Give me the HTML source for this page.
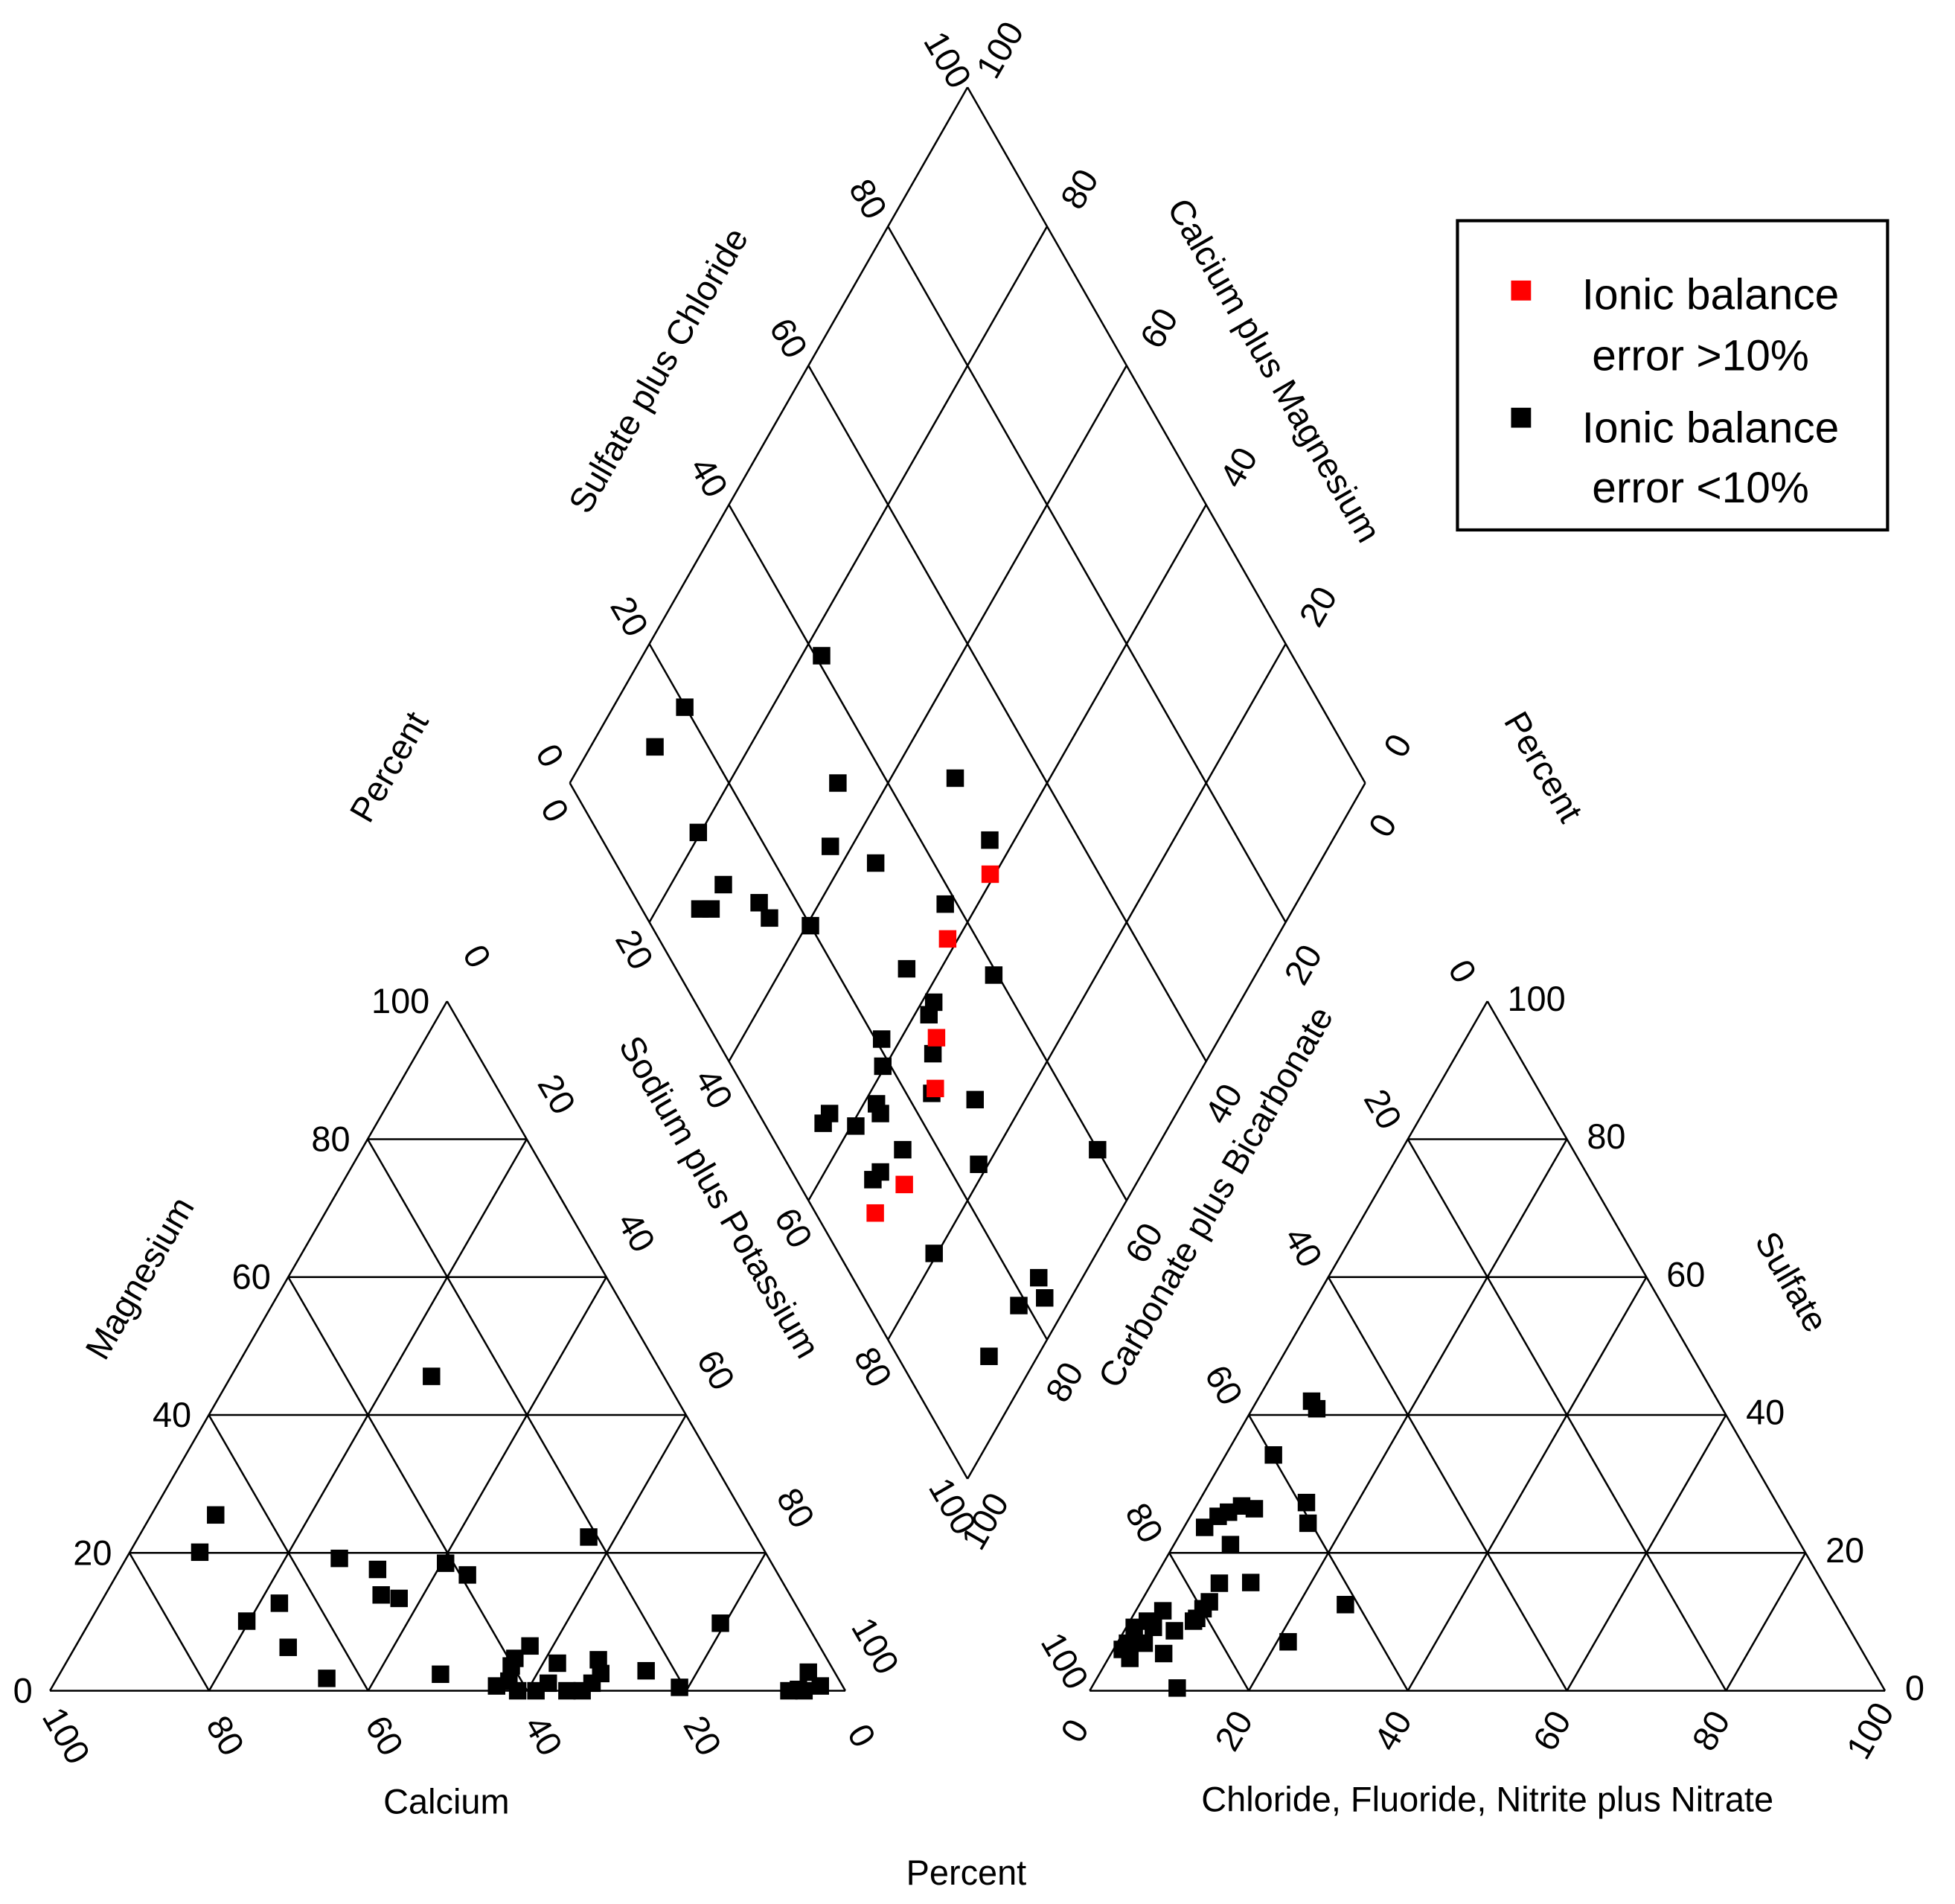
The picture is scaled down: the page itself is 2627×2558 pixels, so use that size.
<!DOCTYPE html>
<html><head><meta charset="utf-8"><style>
html,body{margin:0;padding:0;background:#fff;}
svg{display:block;}
text{font-family:"Liberation Sans",sans-serif;fill:#000;}
</style></head><body>
<svg id="chart" width="2627" height="2558" viewBox="0 0 1568 1527" xmlns="http://www.w3.org/2000/svg">
<g id="grid"></g>
<g id="labels"></g>
<g id="points"></g>
<g>
<rect x="1169" y="177" width="345" height="248" fill="#fff" stroke="#000" stroke-width="2.5"/>
<rect x="1212" y="225" width="16" height="16" fill="#ff0000"/>
<text x="1372" y="248" font-size="35" text-anchor="middle" font-family="DejaVu Sans, sans-serif">Ionic balance</text>
<text x="1364" y="297" font-size="35" text-anchor="middle">error &gt;10%</text>
<rect x="1212" y="327" width="16" height="16" fill="#000"/>
<text x="1372" y="355" font-size="35" text-anchor="middle">Ionic balance</text>
<text x="1364" y="403" font-size="35" text-anchor="middle">error &lt;10%</text>
</g>
</svg>
<script>
// Cation triangle data (percent)
const catCa = [66.4,71.1,70.2,64.8,66.9,64.3,54,50,51.4,49.4,29.2,41,39.1,49.7,21.1,10.8,23.6,20.6,40.2,36.4,34.2,28.8,41.6,43.5,41.2,38.9,36.8,35,33.1,31.3,29.5,7.1,5.8,3.3,2.8,5.2,39.2];
const catMg = [25.5,20.1,10.1,12.7,6.3,1.8,19.2,17.6,13.9,13.4,45.6,18.5,16.8,2.4,22.3,9.8,2.9,0.5,3.6,6.5,4,4.5,1.4,0.7,0,0,1.1,0,0,1.1,2.5,0,0.2,2.7,0.7,0,4.7];
// Anion triangle data (percent)
const anCl = [6.9,8.1,6,13.6,15.3,5.7,7.5,4.5,3.5,2.6,7.1,8.5,12.4,25.9,21.4,10.8,6.6,2.7,1.3,1,2.2,3.4,6.3,8.2,8.3,8.6,8,3.4,3.4,1.1];
const anSO4 = [42,40.9,34.2,27.3,24.3,26.8,26.4,25.9,25.3,23.7,21.2,15.6,15.7,12.5,7.1,0.4,5.4,4.7,6.9,9.2,10.1,11.6,8.7,10.5,11.9,12.9,10.1,6.9,9.2,6];
// Diamond data (percent), black = error <10%
const dNaK = [22.5,9,8.1,33.7,48.1,19.7,37.3,44.2,56.9,26.6,25.4,26.8,32.4,34.8,40.5,55.9,55.7,67.1,61.5,61.8,57.6,59.7,65.1,67.8,73.7,56.4,56.3,60.6,61.6,62.8,68.2,78.8,92.7,67,66.6,79.6,94.5,96.7,94,93.9];
const dSCl = [40.8,19.9,13.3,33.7,48.8,12.6,28.2,32.7,48.7,12,7.3,8.7,15.2,15.4,20,38.5,29,39.5,30,28.5,20.8,19,26.2,23.2,28.2,8.9,7.4,11.3,15.5,15.3,15.5,24,40,11.1,9.6,12,23.4,22.7,18.9,11.5];
// Diamond red = error >10%
const rNaK = [59.4,58.7,64.4,67.9,70.9,69.3];
const rSCl = [46.3,36.3,27.8,24,13.2,7.5];
const ticks = ["0","20","40","60","80","100"];

const NS="http://www.w3.org/2000/svg";
const grid=document.getElementById('grid'), labels=document.getElementById('labels'), pts=document.getElementById('points');
function mk(tag,attrs,parent){const e=document.createElementNS(NS,tag);for(const k in attrs)e.setAttribute(k,attrs[k]);parent.appendChild(e);return e;}
function line(a,b){const l=mk('line',{x1:a[0],y1:a[1],x2:b[0],y2:b[1],stroke:'#000','stroke-width':1.5},grid);

}
function lerp(a,b,t){return [a[0]+(b[0]-a[0])*t,a[1]+(b[1]-a[1])*t];}

// geometry
const LB=[40,1356], LR=[678,1356], LT=[358.5,803];
const RB=[874,1356], RR=[1512,1356], RT=[1193,803];
const DL=[457,628], DT=[776,70], DR=[1095,628], DB=[776,1186];

function triGrid(A,B,C){
  for(let i=0;i<=5;i++){const t=i/5;
    line(lerp(A,C,t),lerp(B,C,t));
    line(lerp(A,B,t),lerp(A,C,t));
    line(lerp(A,B,t),lerp(B,C,1-t));
  }
}
triGrid(LB,LR,LT); triGrid(RB,RR,RT);
for(let i=0;i<=5;i++){const t=i/5;
  line(lerp(DL,DB,t),lerp(DT,DR,t));
  line(lerp(DL,DT,t),lerp(DB,DR,t));
}
// mappings
function catXY(ca,mg){const m=mg/100,na=(100-ca-mg)/100;return [LB[0]+m*(LT[0]-LB[0])+na*(LR[0]-LB[0]), LB[1]-m*(LB[1]-LT[1])];}
function anXY(cl,so4){const s=so4/100,c=cl/100;return [RB[0]+c*(RR[0]-RB[0])+s*(RT[0]-RB[0]), RB[1]-s*(RB[1]-RT[1])];}
function diaXY(nak,scl){const n=nak/100,s=scl/100;return [DL[0]+s*(DT[0]-DL[0])+n*(DB[0]-DL[0]), DL[1]+s*(DT[1]-DL[1])+n*(DB[1]-DL[1])];}
function sq(p,color,name){const r=mk('rect',{x:p[0]-7,y:p[1]-7,width:14,height:14,fill:color},pts);

}
catCa.forEach((c,i)=>sq(catXY(c,catMg[i]),'#000','cation-point'));
anCl.forEach((c,i)=>sq(anXY(c,anSO4[i]),'#000','anion-point'));
dNaK.forEach((n,i)=>sq(diaXY(n,dSCl[i]),'#000','diamond-point-black'));
rNaK.forEach((n,i)=>sq(diaXY(n,rSCl[i]),'#ff0000','diamond-point-red'));

function txt(x,y,s,rot,size,anchor,name){
  const t=mk('text',{x:x,y:y,'font-size':size||28,'text-anchor':anchor||'middle','dominant-baseline':'central'},labels);
  if(rot)t.setAttribute('transform','rotate('+rot+' '+x+' '+y+')');
  t.textContent=s;
  
  
  return t;
}
ticks.forEach((s,i)=>{
  // Mg left side
  txt(LB[0]+(LT[0]-LB[0])*i/5-14,LB[1]-(LB[1]-LT[1])*i/5,s,0,28,'end','magnesium-tick');
  // Ca bottom (100 at left)
  txt(LR[0]-(LR[0]-LB[0])*i/5+15-2,1392,s,60,28,'middle','calcium-tick');
  // Na+K right side of left triangle
  const p=lerp(LT,LR,i/5); txt(p[0]+24,p[1]-36,s,60,28,'middle','sodium-potassium-tick');
  // SO4 right side
  const q=lerp(RT,RR,i/5); txt(q[0]+16,q[1]-2,ticks[5-i],0,28,'start','sulfate-tick');
  // Cl bottom
  txt(RB[0]+(RR[0]-RB[0])*i/5-12,1388,s,-60,28,'middle','chloride-tick');
  // HCO3 left side of right triangle (0 at apex)
  const h=lerp(RT,RB,i/5); txt(h[0]-20,h[1]-24,s,60,28,'middle','carbonate-tick');
  // Diamond upper-left (SO4+Cl)
  const a=lerp(DL,DT,i/5); txt(a[0]-16,a[1]-22,s,60,28,'middle','sulfate-chloride-tick');
  // Diamond upper-right (Ca+Mg), 100 at top
  const b=lerp(DT,DR,i/5); txt(b[0]+26,b[1]-30,ticks[5-i],-60,28,'middle','calcium-magnesium-tick');
  // Diamond lower-left (Na+K), 0 at left
  const c=lerp(DL,DB,i/5); txt(c[0]-12,c[1]+22,s,60,28,'middle','diamond-sodium-tick');
  // Diamond lower-right (CO3+HCO3), 0 at right
  const d=lerp(DR,DB,i/5); txt(d[0]+14,d[1]+34,s,-60,28,'middle','diamond-carbonate-tick');
});
txt(358,1445,'Calcium',0,28,'middle','calcium-axis-title');
txt(1193,1443,'Chloride, Fluoride, Nitrite plus Nitrate',0,28,'middle','chloride-axis-title');
txt(775,1502,'Percent',0,28,'middle','percent-bottom-title');
txt(112,1025,'Magnesium',-60,28,'middle','magnesium-axis-title');
txt(1437,1028,'Sulfate',60,28,'middle','sulfate-axis-title');
txt(577,960,'Sodium plus Potassium',60,28,'middle','sodium-potassium-title');
txt(975,960,'Carbonate plus Bicarbonate',-60,28,'middle','carbonate-title');
txt(528,297,'Sulfate plus Chloride',-60,28,'middle','sulfate-chloride-title');
txt(1022,297,'Calcium plus Magnesium',60,28,'middle','calcium-magnesium-title');
txt(312,615,'Percent',-60,28,'middle','percent-left-title');
txt(1238,615,'Percent',60,28,'middle','percent-right-title');
</script>
</body></html>
